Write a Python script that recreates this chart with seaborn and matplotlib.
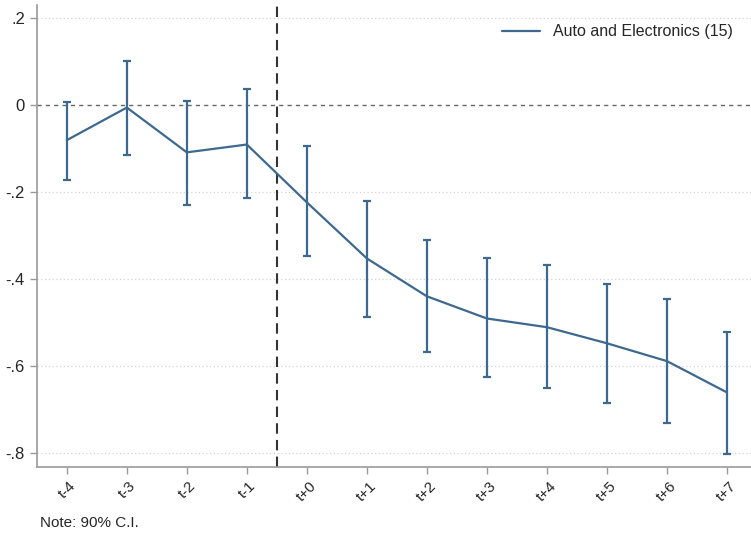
import numpy as np
import pandas as pd
import matplotlib
matplotlib.use('Agg')
import matplotlib.pyplot as plt
import seaborn as sns

# Event-study estimates
periods = ['t-4', 't-3', 't-2', 't-1', 't+0', 't+1', 't+2', 't+3', 't+4', 't+5', 't+6', 't+7']
coef = [-0.080, -0.005, -0.108, -0.090, -0.223, -0.352, -0.439, -0.490, -0.510, -0.547, -0.588, -0.660]
ci_hi = [0.007, 0.101, 0.009, 0.037, -0.094, -0.221, -0.310, -0.352, -0.368, -0.411, -0.446, -0.520]
ci_lo = [-0.172, -0.113, -0.230, -0.214, -0.347, -0.487, -0.566, -0.625, -0.649, -0.685, -0.731, -0.802]
series_label = 'Auto and Electronics (15)'
yticks = [0.2, 0.0, -0.2, -0.4, -0.6, -0.8]
ytick_labels = ['.2', '0', '-.2', '-.4', '-.6', '-.8']

df = pd.DataFrame({'pos': np.arange(len(periods)), 'period': periods,
                   'coef': coef, 'hi': ci_hi, 'lo': ci_lo})

sns.set_style('white')
plt.rcParams['font.family'] = ['Liberation Sans', 'DejaVu Sans']

color = '#3d6990'
fig = plt.figure(figsize=(7.51, 5.34), dpi=100)
ax = fig.add_axes([0.049, 0.125, 0.951, 0.865])

# reference grid lines
for y in yticks:
    if y != 0:
        ax.axhline(y, color='#d4d4d4', lw=0.9, ls=(0, (1, 2)), zorder=0)
ax.axhline(0, color='#666666', lw=1.0, ls=(0, (3, 3)), zorder=1)
ax.axvline(3.5, color='#333333', lw=1.5, ls=(0, (5, 3)), zorder=1)

# confidence intervals
ax.errorbar(df['pos'], df['coef'],
            yerr=[df['coef'] - df['lo'], df['hi'] - df['coef']],
            fmt='none', ecolor=color, elinewidth=1.6, capsize=3, capthick=1.6, zorder=2)
sns.lineplot(data=df, x='pos', y='coef', color=color, lw=1.6, ax=ax,
             label=series_label, zorder=3)

ax.set_xlim(-0.5, 11.4)
ax.set_ylim(-0.832, 0.23)
ax.set_xticks(df['pos'])
ax.set_xticklabels(periods, rotation=45, fontsize=11)
ax.set_yticks(yticks)
ax.set_yticklabels(ytick_labels, fontsize=12)
ax.set_xlabel('')
ax.set_ylabel('')
ax.tick_params(axis='both', which='both', length=5, width=1, color='#9a9a9a',
               direction='out', left=True, bottom=True)

for side in ['top', 'right']:
    ax.spines[side].set_visible(False)
for side in ['left', 'bottom']:
    ax.spines[side].set_color('#9a9a9a')
    ax.spines[side].set_linewidth(1.2)

leg = ax.legend(loc='upper right', frameon=False, fontsize=11.5,
                handlelength=2.4, bbox_to_anchor=(0.995, 0.99))

fig.text(0.053, 0.007, 'Note: 90% C.I.', fontsize=11, ha='left', va='bottom')

plt.savefig('out.png', dpi=100)
plt.close()
